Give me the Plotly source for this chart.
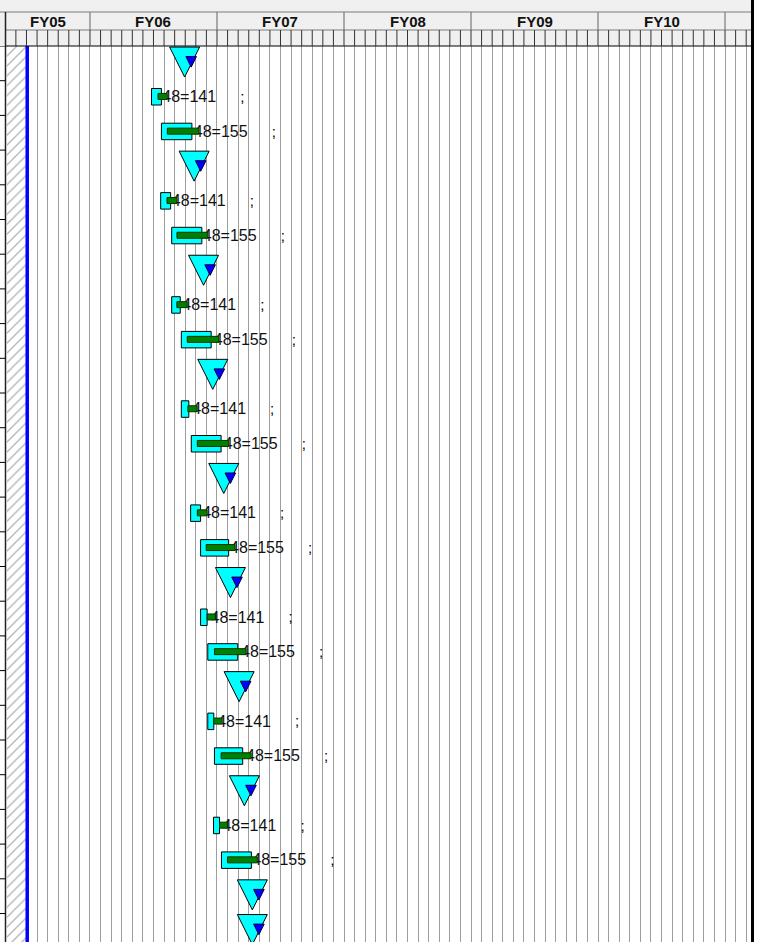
import plotly.graph_objects as go

# ---------------- data ----------------
fiscal_years = ["FY05", "FY06", "FY07", "FY08", "FY09", "FY10"]
fy_start = [-12, 0, 12, 24, 36, 48]          # months relative to start of FY06
fy_end = [0, 12, 24, 36, 48, 60]
x_min, x_max = -7.84, 62.36                  # visible time window (months)
status_month = -5.93                          # status / "today" line

milestone_rows = [0, 3, 6, 9, 12, 15, 18, 21, 24, 25]
milestone_plan = [8.94, 9.84, 10.73, 11.60, 12.64, 13.27, 14.09, 14.59, 15.34, 15.34]
milestone_fcst = [9.56, 10.46, 11.35, 12.22, 13.26, 13.89, 14.71, 15.21, 15.96, 15.96]

small_rows = [1, 4, 7, 10, 13, 16, 19, 22]
small_plan_start = [5.81, 6.68, 7.72, 8.63, 9.51, 10.45, 11.13, 11.67]
small_plan_end = [6.75, 7.62, 8.53, 9.34, 10.45, 11.07, 11.70, 12.24]
small_act_start = [6.43, 7.28, 8.21, 9.25, 10.14, 11.07, 11.70, 12.24]
small_act_end = [7.30, 8.21, 9.19, 10.13, 11.07, 11.86, 12.49, 12.99]
small_label = "48=141"

big_rows = [2, 5, 8, 11, 14, 17, 20, 23]
big_plan_start = [6.75, 7.72, 8.63, 9.57, 10.45, 11.13, 11.76, 12.42]
big_plan_end = [9.63, 10.57, 11.45, 12.39, 13.10, 13.96, 14.43, 15.25]
big_act_start = [7.31, 8.22, 9.19, 10.14, 10.98, 11.76, 12.39, 12.99]
big_act_end = [10.28, 11.13, 12.17, 13.11, 13.71, 14.75, 15.22, 15.81]
big_label = "48=155"

# ---------------- geometry / style ----------------
W, H = 767, 942
ML, MR, MT, MB = 7, 17, 46, 0
PW, PH = W - ML - MR, H - MT - MB
ROW_PX = 34.7
y_top = -0.5
y_bot = y_top + PH / ROW_PX
PX_PER_MONTH = PW / (x_max - x_min)
FONT = "Liberation Sans, Arial"


def px_to_m(px):
    return px / PX_PER_MONTH


def px_to_r(px):
    return px / ROW_PX


def hdr_y(py):
    # header pixel y (from top of page) -> paper y
    return 1 + (MT - py) / PH


def rect_poly(x0s, x1s, rows, h, dy):
    xs, ys = [], []
    for a, b, r in zip(x0s, x1s, rows):
        yc = r + dy
        xs += [a, b, b, a, a, None]
        ys += [yc - h / 2, yc - h / 2, yc + h / 2, yc + h / 2, yc - h / 2, None]
    return xs, ys


def tri_poly(centers, rows, half_w, top_off, tip_off):
    xs, ys = [], []
    for c, r in zip(centers, rows):
        xs += [c - half_w, c + half_w, c, c - half_w, None]
        ys += [r + top_off, r + top_off, r + tip_off, r + top_off, None]
    return xs, ys


fig = go.Figure()

# hatched "past" region
fig.add_trace(go.Scatter(
    x=[x_min, status_month, status_month, x_min, x_min],
    y=[y_top, y_top, y_bot, y_bot, y_top],
    mode="lines", fill="toself", fillcolor="white",
    fillpattern=dict(shape="/", fgcolor="#707070", bgcolor="white", size=7, solidity=0.2),
    line=dict(width=0), hoverinfo="skip", showlegend=False))

# status line
fig.add_trace(go.Scatter(
    x=[status_month, status_month], y=[y_top, y_bot], mode="lines",
    line=dict(color="#0000ff", width=3.5), hoverinfo="skip", showlegend=False))

# labels (drawn under bars so the bar end overlaps them a little)
lab_x = [e - px_to_m(5) for e in small_act_end + big_act_end]
lab_y = small_rows + big_rows
lab_t = [small_label] * len(small_rows) + [big_label] * len(big_rows)
fig.add_trace(go.Scatter(
    x=lab_x, y=lab_y, text=lab_t, mode="text", textposition="middle right",
    textfont=dict(family=FONT, size=16, color="#111111"),
    hoverinfo="skip", showlegend=False, cliponaxis=False))

semi_x = [e + px_to_m(75) for e in small_act_end + big_act_end]
fig.add_trace(go.Scatter(
    x=semi_x, y=lab_y, text=[";"] * len(lab_y), mode="text", textposition="middle center",
    textfont=dict(family=FONT, size=15, color="#000000"),
    hoverinfo="skip", showlegend=False))

# baseline (cyan) bars
xs, ys = rect_poly(small_plan_start + big_plan_start, small_plan_end + big_plan_end,
                   small_rows + big_rows, px_to_r(16.5), px_to_r(-1.3))
fig.add_trace(go.Scatter(x=xs, y=ys, mode="lines", fill="toself", fillcolor="#00ffff",
                         line=dict(color="#000000", width=1), hoverinfo="skip", showlegend=False))

# actual (green) bars
xs, ys = rect_poly(small_act_start + big_act_start, small_act_end + big_act_end,
                   small_rows + big_rows, px_to_r(6), px_to_r(-1.6))
fig.add_trace(go.Scatter(x=xs, y=ys, mode="lines", fill="toself", fillcolor="#008000",
                         line=dict(color="#003300", width=1), hoverinfo="skip", showlegend=False))

# milestones: big cyan inverted triangles
xs, ys = tri_poly(milestone_plan, milestone_rows, px_to_m(15), -0.47, 0.395)
fig.add_trace(go.Scatter(x=xs, y=ys, mode="lines", fill="toself", fillcolor="#00ffff",
                         line=dict(color="#000000", width=1), hoverinfo="skip", showlegend=False))

# milestones: small blue forecast triangles
xs, ys = tri_poly(milestone_fcst, milestone_rows, px_to_m(5.3), -0.195, 0.11)
fig.add_trace(go.Scatter(x=xs, y=ys, mode="lines", fill="toself", fillcolor="#0000ff",
                         line=dict(color="#000040", width=1), hoverinfo="skip", showlegend=False))

# ---------------- header & frame shapes ----------------
shapes = []
# header background
shapes.append(dict(type="rect", xref="paper", yref="paper",
                   x0=-ML / PW, x1=1 + 2 / PW, y0=1, y1=hdr_y(0),
                   fillcolor="#f0f0f0", line=dict(width=0), layer="below"))
# header horizontal lines
shapes.append(dict(type="line", xref="paper", yref="paper", x0=-ML / PW, x1=1 + 2 / PW,
                   y0=hdr_y(12), y1=hdr_y(12), line=dict(color="#7a7a7a", width=1.2)))
shapes.append(dict(type="line", xref="paper", yref="paper", x0=-1.5 / PW, x1=1 + 2 / PW,
                   y0=hdr_y(30), y1=hdr_y(30), line=dict(color="#7a7a7a", width=1.2)))
shapes.append(dict(type="line", xref="paper", yref="paper", x0=-1.5 / PW, x1=1 + 2 / PW,
                   y0=hdr_y(46), y1=hdr_y(46), line=dict(color="#000000", width=1.2)))
# FY boundaries in header
for s in fy_start + [fy_end[-1]]:
    if x_min < s < x_max:
        shapes.append(dict(type="line", xref="x", yref="paper", x0=s, x1=s,
                           y0=hdr_y(12), y1=hdr_y(30), line=dict(color="#7a7a7a", width=1.2)))
# month ticks in header
for mm in range(int(x_min), int(x_max) + 1):
    shapes.append(dict(type="line", xref="x", yref="paper", x0=mm, x1=mm,
                       y0=hdr_y(30), y1=hdr_y(46), line=dict(color="#333333", width=1)))
# left border
shapes.append(dict(type="line", xref="paper", yref="paper", x0=-1.5 / PW, x1=-1.5 / PW,
                   y0=0, y1=hdr_y(12), line=dict(color="#222222", width=1.5)))
# row separators of the (cut-off) task table at far left
for k in range(int(y_bot) + 2):
    yb = k - 0.5
    if yb <= y_bot:
        shapes.append(dict(type="line", xref="paper", yref="y", x0=-ML / PW, x1=-1.5 / PW,
                           y0=yb, y1=yb, line=dict(color="#000000", width=1)))
# right border
shapes.append(dict(type="line", xref="paper", yref="paper", x0=1 + 2.5 / PW, x1=1 + 2.5 / PW,
                   y0=0, y1=hdr_y(0), line=dict(color="#000000", width=3)))

annotations = []
for name, s, e in zip(fiscal_years, fy_start, fy_end):
    c = (max(s, x_min) + min(e, x_max)) / 2
    annotations.append(dict(text="<b>" + name + "</b>", x=c, xref="x", y=hdr_y(21.5), yref="paper",
                            showarrow=False, xanchor="center", yanchor="middle",
                            font=dict(family=FONT, size=15, color="#111111")))

fig.update_layout(
    width=W, height=H,
    margin=dict(l=ML, r=MR, t=MT, b=MB, pad=0),
    paper_bgcolor="white", plot_bgcolor="white",
    shapes=shapes, annotations=annotations,
    hovermode=False, showlegend=False,
    xaxis=dict(range=[x_min, x_max], showgrid=True, gridcolor="#9e9e9e", gridwidth=1,
               tick0=0, dtick=1, showticklabels=False, ticks="", zeroline=False,
               showline=False, fixedrange=True),
    yaxis=dict(range=[y_bot, y_top], showgrid=False, zeroline=False, showticklabels=False,
               ticks="", showline=False, fixedrange=True),
)

fig.write_html("out.html", config={"displayModeBar": False},
               post_script="document.body.style.margin='0';document.body.style.overflow='hidden';")
